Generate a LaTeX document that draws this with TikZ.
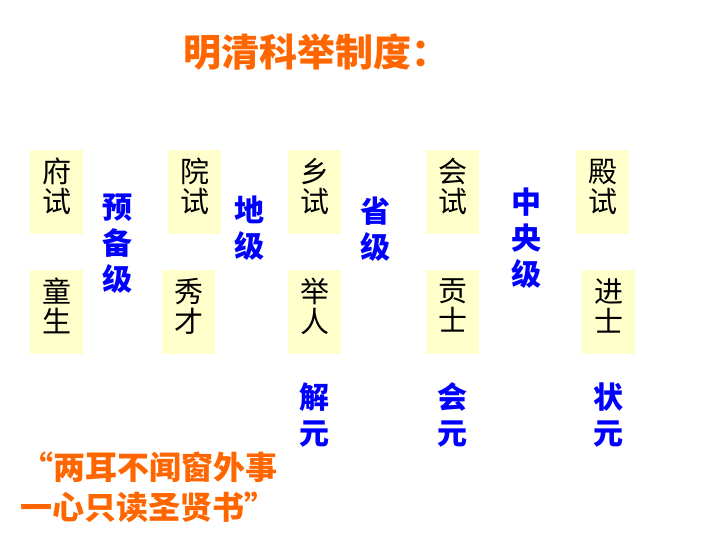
\documentclass[tikz,border=0pt]{standalone}
\usepackage{fontspec}
\newfontfamily\cjk{Noto Sans CJK SC}
\usetikzlibrary{positioning}
\definecolor{titleorange}{HTML}{FF6600}
\definecolor{levelblue}{HTML}{0000FF}
\definecolor{boxyellow}{HTML}{FFFFCC}

\begin{document}
\begin{tikzpicture}[x=1pt, y=-1pt]
			\tikzset {exam/.style={fill=boxyellow, minimum width=53pt, minimum height=84pt, inner sep=0pt, text depth=13pt, align=center, font=\cjk\fontsize{29}{30}\selectfont},
				level/.style={text=levelblue, inner sep=0pt, align=center, font=\cjk\bfseries\fontsize{30}{36}\selectfont},
				title/.style={text=titleorange, inner sep=0pt, anchor=west, font=\cjk\bfseries\fontsize{38}{42}\selectfont},
				motto/.style={text=titleorange, inner sep=0pt, anchor=west, font=\cjk\bfseries\fontsize{32}{36}\selectfont} }
			\useasboundingbox (0,0) rectangle (720,540);

			\node[title] (head) at (183,52) {明清科举制度：};

			% exams and titles
			\node[exam] (fushi) at (56.5,192) {府\\试};
			\node[exam] (tongsheng) at (56.5,312) {童\\生};
			\node[exam] (yuanshi) at (194.5,192) {院\\试};
			\node[exam] (xiucai) at (188.5,312) {秀\\才};
			\node[exam] (xiangshi) at (314.5,192) {乡\\试};
			\node[exam] (juren) at (314.5,312) {举\\人};
			\node[exam] (huishi) at (452.5,192) {会\\试};
			\node[exam] (gongshi) at (452.5,312) {贡\\士};
			\node[exam] (dianshi) at (602.5,192) {殿\\试};
			\node[exam] (jinshi) at (608.5,312) {进\\士};

			% levels
			\node[level] (yubei) at (117,244) {预\\备\\级};
			\node[level] (diji) at (249,228) {地\\级};
			\node[level] (shengji) at (375,229) {省\\级};
			\node[level] (zhongyang) at (526,238) {中\\央\\级};

			\node[level, below=28pt of juren] (jieyuan) {解\\元};
			\node[level, below=28pt of gongshi] (huiyuan) {会\\元};
			\node[level, below=28pt of jinshi] (zhuangyuan) {状\\元};

			\node[motto] (motto1) at (21,467) {“两耳不闻窗外事};
			\node[motto] (motto2) at (20,507) {一心只读圣贤书”};
\end{tikzpicture}
\end{document}
